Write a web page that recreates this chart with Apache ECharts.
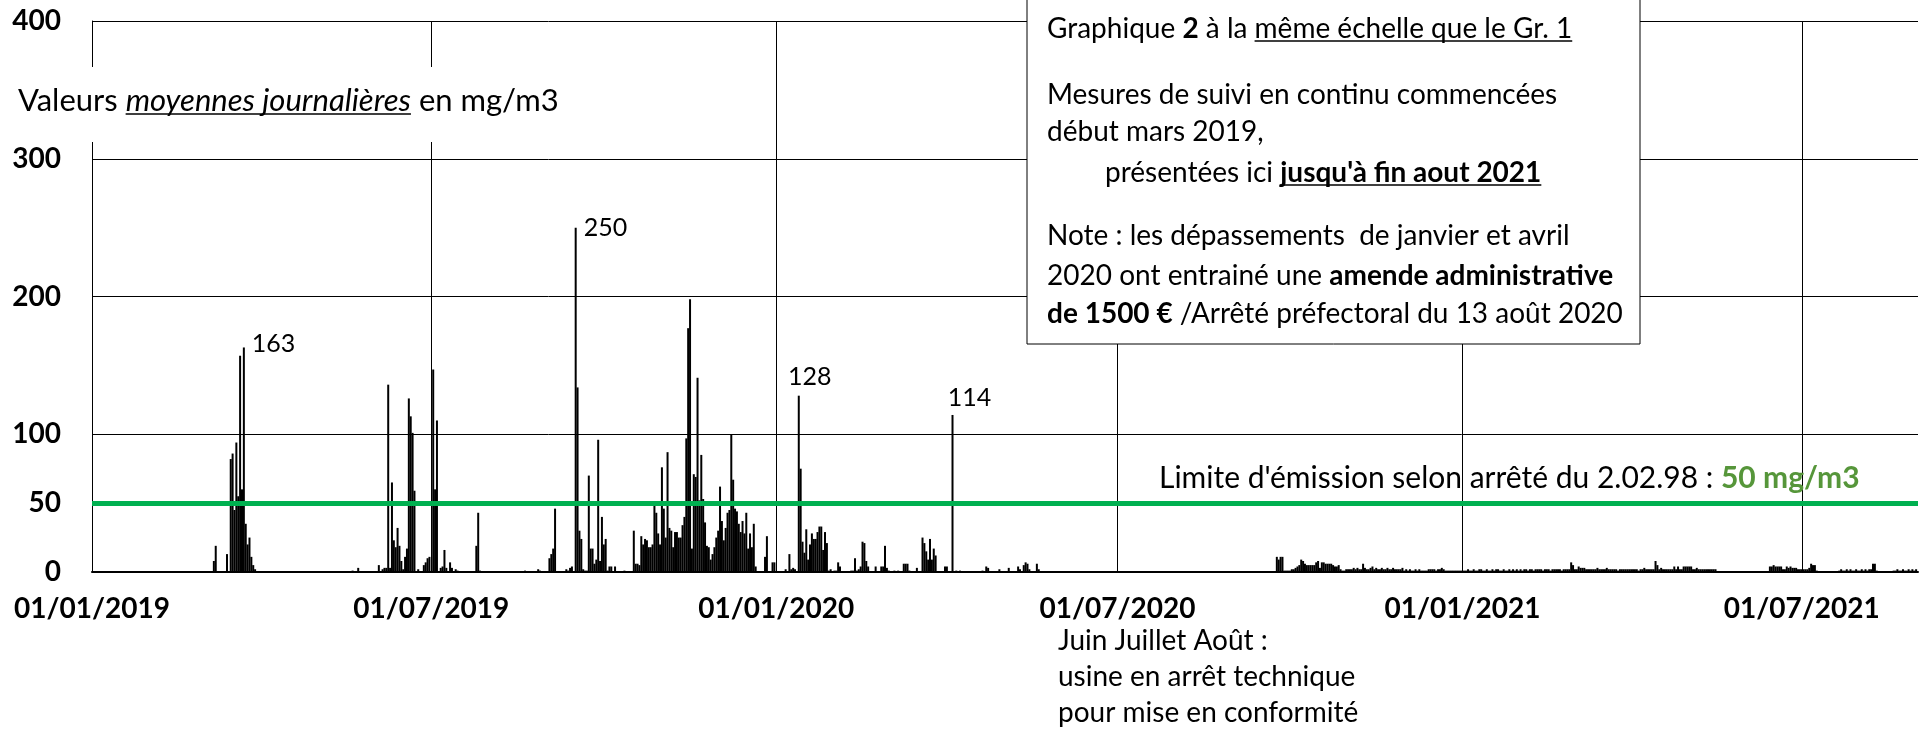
<!DOCTYPE html>
<html lang="fr">
<head>
  <meta charset="utf-8">
  <script src="https://cdn.jsdelivr.net/npm/echarts@6/dist/echarts.min.js"></script>
</head>
<body style="margin: 0">
  <div id="container" style="width: 1925px; height: 734px"></div>

  <script type="text/javascript">
// moyennes journalieres en mg/m3, un mois par ligne
// 2019 : a partir du 1er mars
var valeurs2019 = [
  0,0,0,0,0,0,8,19,0,0,0,0,0,13,0,82,86,45,94,55,157,60,163,35,20,25,11,5,2,0,0,
  0,0,0,0,0,0,0,0,0,0,0,0,0,0,0,0,0,0,0,0,0,0,0,0,0,0,0,0,0,0,
  0,0,0,0,0,0,0,0,0,0,0,0,0,0,0,0,0,0,0,1,0,0,3,0,0,0,0,0,0,0,0,
  0,0,5,0,2,3,3,136,3,65,23,18,32,19,8,2,11,17,126,113,101,59,0,2,0,0,5,7,10,11,
  0,147,60,110,0,3,4,16,3,0,7,3,0,2,1,0,0,0,0,0,0,0,0,0,19,43,1,0,0,0,0,
  0,0,0,0,0,0,0,0,0,0,0,0,0,0,0,0,0,0,0,1,0,0,0,0,0,0,2,1,0,0,0,
  0,10,13,17,46,0,0,0,0,0,2,1,3,4,0,250,134,30,24,2,1,1,70,17,17,6,9,96,8,40,
  20,24,1,4,4,0,4,0,0,0,0,1,0,0,0,0,30,6,6,5,26,20,24,23,18,18,20,50,43,28,20,
  76,46,25,87,32,30,18,29,29,25,25,34,40,97,177,198,17,71,69,141,52,85,53,36,19,18,9,13,18,25,
  30,62,37,23,32,43,45,100,67,46,44,35,29,37,28,43,17,28,18,35,4,0,0,0,0,11,26,0,0,7,7
];
// 2020 : a partir du 1er janvier
var valeurs2020 = [
  0,0,0,0,0,2,0,13,2,3,2,0,128,75,22,14,31,9,20,28,24,24,29,33,33,16,29,21,1,2,0,
  1,1,7,4,0,0,0,0,0,1,1,10,1,2,4,22,21,8,4,0,0,0,4,0,0,4,4,19,3,
  1,0,0,1,0,1,0,0,6,6,6,1,0,0,0,3,0,0,25,21,15,9,24,9,17,12,0,0,0,0,4,
  4,0,0,114,0,1,0,1,0,0,0,0,0,0,0,0,0,0,0,1,0,4,3,0,0,0,0,0,2,0,
  0,0,0,3,0,0,0,0,4,2,0,5,7,6,2,0,0,0,6,2,0,0,0,0,0,0,0,0,0,0,0,
  0,0,0,0,0,0,0,0,0,0,0,0,0,0,0,0,0,0,0,0,0,0,0,0,0,0,0,0,0,0,
  0,0,0,0,0,0,0,0,0,0,0,0,0,0,0,0,0,0,0,0,0,0,0,0,0,0,0,0,0,0,0,
  0,0,0,0,0,0,0,0,0,0,0,0,0,0,0,0,0,0,0,0,0,0,0,0,0,0,0,0,0,0,0,
  0,0,0,0,0,0,0,0,0,0,0,0,0,0,0,0,0,0,0,0,0,0,0,11,9,11,11,1,1,1,
  1,2,2,3,4,5,9,8,6,5,5,5,5,5,7,8,3,7,7,6,6,6,6,5,4,4,5,2,1,1,2,
  2,2,2,3,2,3,2,2,6,3,2,2,3,4,2,3,2,2,3,2,2,3,2,2,3,2,2,2,2,3,
  1,2,1,2,1,1,2,1,2,1,1,1,1,2,2,2,2,1,2,2,3,2,1,1,1,1,1,1,1,1,1
];
// 2021 : du 1er janvier a fin aout
var valeurs2021 = [
  1,1,1,2,1,1,2,1,1,2,2,1,1,2,1,1,2,1,2,2,1,1,2,1,1,2,1,2,1,2,1,
  2,1,2,2,1,2,2,1,2,2,2,2,1,2,2,2,1,2,2,2,2,2,1,2,2,2,2,7,
  5,2,2,4,3,3,3,2,2,2,2,2,2,3,2,2,2,2,3,2,2,2,2,2,1,2,2,2,2,2,2,
  2,2,2,2,1,2,2,3,2,2,2,2,2,8,5,2,3,2,2,2,2,2,2,4,2,4,2,2,4,4,
  4,4,4,2,2,3,2,2,2,2,2,2,2,2,2,2,0,0,0,0,0,0,0,0,0,0,0,0,0,0,0,
  0,0,0,0,0,0,0,0,0,0,0,0,0,4,4,5,4,4,4,4,2,2,4,3,4,3,3,3,2,2,
  2,2,2,2,3,6,5,5,1,0,0,0,0,0,0,0,0,0,0,0,1,2,1,1,2,1,2,1,1,2,1,
  1,2,1,2,1,2,2,6,6,1,0,0,0,0,0,0,0,0,1,1,2,1,1,2,1,1,2,1,2,1,2
];

var reperes = ['2019-01-01', '2019-07-01', '2020-01-01', '2020-07-01', '2021-01-01', '2021-07-01'];
var graduations = [0, 50, 100, 200, 300, 400];
var grille = [100, 200, 300, 400];
var limite = 50;
var pics = ['2019-03-23', '2019-09-16', '2020-01-13', '2020-04-04'];

function jour(s) {
  var p = s.split('-');
  return new Date(+p[0], p[1] - 1, +p[2]).getTime();
}
function serie(debut, valeurs) {
  var d = new Date(jour(debut));
  return valeurs.map(function (v, i) {
    return [new Date(d.getFullYear(), d.getMonth(), d.getDate() + i).getTime(), v];
  });
}
function deux(n) { return (n < 10 ? '0' : '') + n; }

// place des etiquettes des pics
var placePic = {
  '2019-03-23': { position: [9, -4], align: 'left', verticalAlign: 'middle' },
  '2019-09-16': { position: [9, 0], align: 'left', verticalAlign: 'middle' },
  '2020-01-13': { position: [12, -6], align: 'center', verticalAlign: 'bottom' },
  '2020-04-04': { position: [18, -5], align: 'center', verticalAlign: 'bottom' }
};
var tPics = {};
pics.forEach(function (s) { tPics[jour(s)] = s; });

var points = serie('2019-03-01', valeurs2019)
  .concat(serie('2020-01-01', valeurs2020), serie('2021-01-01', valeurs2021))
  .map(function (p) {
    var s = tPics[p[0]];
    if (!s) return { value: p };
    var pl = placePic[s];
    return {
      value: p,
      label: {
        show: true, formatter: String(p[1]), position: pl.position,
        align: pl.align, verticalAlign: pl.verticalAlign,
        fontFamily: 'Lato', fontSize: 25, color: '#000'
      }
    };
  });

var trait = { color: '#000', width: 1, type: 'solid' };
var lignes = grille.map(function (v) { return { yAxis: v, lineStyle: trait }; })
  .concat(reperes.slice(1).map(function (s) { return { xAxis: jour(s), lineStyle: trait }; }))
  .concat([{ yAxis: limite, lineStyle: { color: '#00B050', width: 5, type: 'solid' } }]);

// textes
var ctx = document.createElement('canvas').getContext('2d');
function largeur(texte, police) { ctx.font = police; return ctx.measureText(texte).width; }
function styles(taille) {
  return {
    b: { fontFamily: 'Lato', fontSize: taille, fontWeight: 'bold', fill: '#000' },
    i: { fontFamily: 'Lato', fontSize: taille, fontStyle: 'italic', fill: '#000' }
  };
}
function texte(x, y, s, taille) {
  return {
    type: 'text', x: x, y: y, z: 101,
    style: { text: s, fontFamily: 'Lato', fontSize: taille, fill: '#000', verticalAlign: 'middle', rich: styles(taille) }
  };
}
function souligne(x, y, a, b) {
  return { type: 'line', z: 101, shape: { x1: x + a, y1: y, x2: x + b, y2: y }, style: { stroke: '#000', lineWidth: 1.5 } };
}

var tb = 28;
var pb = tb + 'px Lato';
var xb = 1047;
var u1 = largeur('Graphique ', pb) + largeur('2', 'bold ' + pb) + largeur(' à la ', pb);
var u1b = u1 + largeur('même échelle que le Gr. 1', pb);
var u4 = largeur('présentées ici ', pb);
var u4b = u4 + largeur("jusqu'à fin aout 2021", 'bold ' + pb);
var tv = 31;
var pv = tv + 'px Lato';
var uv = largeur('Valeurs ', pv);
var uvb = uv + largeur('moyennes journalières', 'italic ' + pv);

var graphiques = [
  { type: 'rect', z: 100, shape: { x: 0, y: 67, width: 590, height: 75 }, style: { fill: '#fff' } },
  texte(18, 101, 'Valeurs {i|moyennes journalières} en mg/m3', tv),
  souligne(18, 114, uv, uvb),
  { type: 'rect', z: 100, shape: { x: 1027, y: -2, width: 613, height: 346 }, style: { fill: '#fff', stroke: '#000', lineWidth: 1 } },
  texte(xb, 29, 'Graphique {b|2} à la même échelle que le Gr. 1', tb),
  souligne(xb, 41, u1, u1b),
  texte(xb, 95, 'Mesures de suivi en continu commencées', tb),
  texte(xb, 132, 'début mars 2019,', tb),
  texte(1105, 173, "présentées ici {b|jusqu'à fin aout 2021}", tb),
  souligne(1105, 185, u4, u4b),
  texte(xb, 236, 'Note : les dépassements  de janvier et avril', tb),
  texte(xb, 276, '2020 ont entrainé une {b|amende administrative}', tb),
  texte(xb, 314, '{b|de 1500 €} /Arrêté préfectoral du 13 août 2020', tb),
  {
    type: 'text', x: 1159, y: 478, z: 101,
    style: {
      text: "Limite d'émission selon arrêté du 2.02.98 : {v|50 mg/m3}",
      fontFamily: 'Lato', fontSize: 30, fill: '#000', verticalAlign: 'middle',
      rich: { v: { fontFamily: 'Lato', fontSize: 30, fontWeight: 'bold', fill: '#56963A' } }
    }
  },
  texte(1058, 641, 'Juin Juillet Août :', tb),
  texte(1058, 677, 'usine en arrêt technique', tb),
  texte(1058, 713, 'pour mise en conformité', tb)
];

var dom = document.getElementById('container');
var myChart = echarts.init(dom, null, { renderer: 'canvas' });
var option = {
  animation: false,
  backgroundColor: '#fff',
  grid: { left: 92, right: 7, top: 21, bottom: 162, containLabel: false },
  xAxis: {
    type: 'value',
    min: jour('2019-01-01'),
    max: jour('2021-09-01'),
    axisLine: { lineStyle: { color: '#000', width: 2 } },
    axisTick: { show: false },
    splitLine: { show: false },
    axisLabel: {
      customValues: reperes.map(jour),
      formatter: function (v) {
        var d = new Date(v);
        return deux(d.getDate()) + '/' + deux(d.getMonth() + 1) + '/' + d.getFullYear();
      },
      fontFamily: 'Lato', fontWeight: 'bold', fontSize: 28, color: '#000', margin: 23,
      hideOverlap: false
    }
  },
  yAxis: {
    type: 'value',
    min: 0,
    max: 400,
    interval: 50,
    axisLine: { show: true, lineStyle: { color: '#000', width: 1 } },
    axisTick: { show: false },
    splitLine: { show: false },
    axisLabel: {
      formatter: function (v) { return graduations.indexOf(v) >= 0 ? String(v) : ''; },
      fontFamily: 'Lato', fontWeight: 'bold', fontSize: 28, color: '#000', margin: 31
    }
  },
  series: [
    {
      type: 'bar',
      barWidth: 2,
      itemStyle: { color: '#000' },
      data: points,
      markLine: {
        silent: true,
        symbol: 'none',
        label: { show: false },
        data: lignes
      }
    }
  ],
  graphic: graphiques
};
myChart.setOption(option);
window.addEventListener('resize', myChart.resize);
  </script>
</body>
</html>
